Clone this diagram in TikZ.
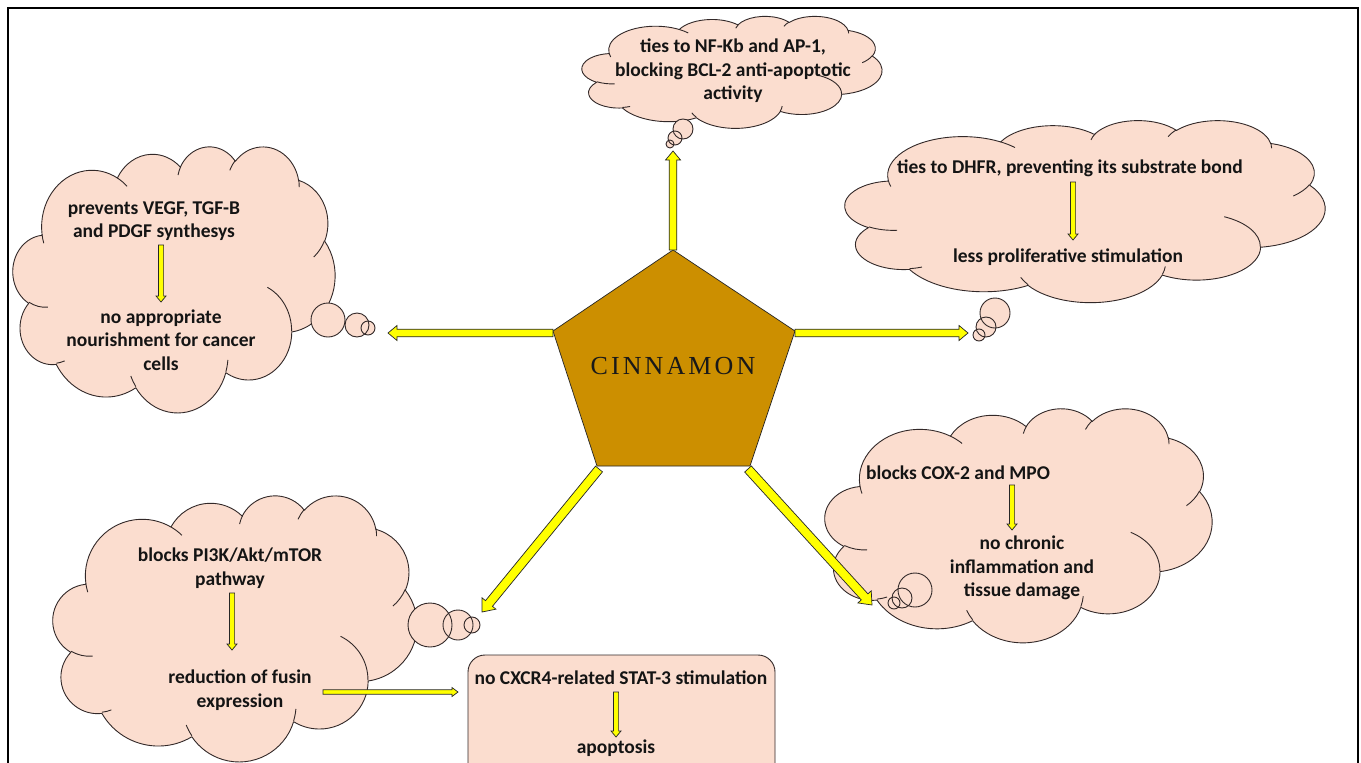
\documentclass[tikz,border=0pt]{standalone}
\usepackage{fontspec}
\setmainfont{Carlito}
\newfontfamily\cinfont[LetterSpace=12]{Liberation Serif}
\usetikzlibrary{calc}
\definecolor{cloudfill}{RGB}{251,221,207}
\definecolor{pentfill}{RGB}{204,143,0}
\definecolor{arrowyellow}{RGB}{255,255,0}
\definecolor{inkline}{RGB}{50,40,40}
\tikzset{
  cloudline/.style={draw=inkline, fill=cloudfill, line width=0.9pt, line join=round},
  creaseline/.style={draw=inkline, line width=0.9pt},
  bubblefill/.style={circle, fill=cloudfill, inner sep=0pt, minimum size=#1},
  bubbleline/.style={circle, draw=inkline, line width=0.9pt, inner sep=0pt, minimum size=#1},
  txt/.style={font=\fontsize{19.5}{23.5}\selectfont\bfseries, align=center, inner sep=0pt, text=black!92},
  blkarrow/.style={draw=black!85, fill=arrowyellow, line width=0.7pt, line join=miter},
  pentstyle/.style={draw=black!85, fill=pentfill, line width=0.7pt},
  framestyle/.style={draw=black, line width=1.6pt},
  roundbox/.style={draw=inkline, fill=cloudfill, line width=0.9pt, rounded corners=17pt}
}
% OOXML-style arcTo: x radius, y radius, start angle, sweep (visual angles)
\def\oo#1#2#3#4{arc[x radius=#1, y radius=#2,
  start angle={atan2((#1)*sin(#3),(#2)*cos(#3))},
  delta angle={mod(atan2((#1)*sin((#3)+(#4)),(#2)*cos((#3)+(#4)))-atan2((#1)*sin(#3),(#2)*cos(#3))+720,360)}]}
% cloud: name, left, top, width, height
\newcommand\pptcloud[5]{%
  \coordinate (#1) at ({#2+#4/2},{#3+#5/2});
  \begin{scope}[shift={(#2,#3)}, xscale=#4/432, yscale=#5/432]
    \draw[cloudline] (39,143.7)
      \oo{67.53}{91.90}{-190.48748}{123.78053}
      \oo{53.33}{72.67}{-144.10238}{89.94523}
      \oo{43.65}{59.45}{-145.80792}{99.72302}
      \oo{48.57}{65.95}{-130.98607}{117.24173}
      \oo{53.33}{72.73}{-78.70888}{109.02692}
      \oo{67.75}{92.20}{-46.26725}{130.269}
      \oo{57.85}{78.67}{0.62502}{114.03333}
      \oo{67.52}{92.15}{22.4516}{115.17255}
      \oo{77.20}{105.43}{66.24263}{75.71102}
      \oo{43.60}{59.18}{-274.94208}{146.73557}
      \oo{43.45}{59.45}{-246.8285}{152.51885} -- cycle;
    \draw[creaseline]
      (46.93,261.77) \oo{43.45}{59.45}{86.742}{26.4295}
      (69.28,348.99) \oo{43.60}{59.18}{73.61047}{11.44747}
      (164.78,390.90) \oo{67.52}{92.15}{137.62415}{14.0811}
      (288.27,347.51) \oo{67.52}{92.15}{6.45327}{15.99835}
      (341.29,229.54) \oo{57.85}{78.67}{-70.29235}{70.91737}
      (417.98,153.54) \oo{53.33}{72.73}{30.31803}{27.7515}
      (383.24,54.26) \oo{48.57}{65.95}{-13.74433}{14.8589}
      (290.78,39.52) \oo{48.57}{65.95}{-149.18145}{18.19537}
      (221.41,47.20) \oo{43.65}{59.45}{-163.49427}{17.68635}
      (140.00,51.92) \oo{67.53}{91.90}{-66.70695}{12.31935}
      (41.27,157.89) \oo{67.53}{91.90}{157.65435}{11.85817};
  \end{scope}}
\newcommand\blkarr[5]{%
  \draw[blkarrow] let \p1=($(#2)-(#1)$), \n1={atan2(\y1,\x1)}, \n2={veclen(\x1,\y1)-#5} in
    ($(#1)+(\n1+90:#3pt)$) -- ($(#1)+(\n1:\n2)+(\n1+90:#3pt)$) -- ($(#1)+(\n1:\n2)+(\n1+90:#4pt)$)
    -- (#2) -- ($(#1)+(\n1:\n2)+(\n1-90:#4pt)$) -- ($(#1)+(\n1:\n2)+(\n1-90:#3pt)$)
    -- ($(#1)+(\n1-90:#3pt)$) -- cycle;}
\begin{document}
\begin{tikzpicture}[x=1pt,y=-1pt]
\useasboundingbox (0,0) rectangle (1361,763);
\clip (0,0) rectangle (1361,763);
\fill[white] (0,0) rectangle (1361,763);
% frame
\draw[framestyle] (8,790) -- (8,8) -- (1358,8) -- (1358,790);

% clouds
\pptcloud{ctop}{582}{16}{300}{112}
\pptcloud{cright}{845}{120}{480}{182}
\pptcloud{cleft}{13}{146}{322}{266}
\pptcloud{cbl}{53}{495}{364}{266}
\pptcloud{cbr}{825}{408}{387}{234}

% thought bubbles
\foreach \nm/\px/\py/\d in {tb1/683/129/20, tb2/675/138/14, tb3/670/144/8,
  rb1/995/313/30, rb2/986/327/20, rb3/979/335/12,
  lb1/328/320/34, lb2/357/325/24, lb3/368/328/14,
  bb1/430/625/44, bb2/458/625/30, bb3/472/625/16,
  eb1/915/590/34, eb2/902/598/20, eb3/894/603/12}{
  \node[bubblefill=\d pt] (\nm f) at (\px,\py) {};
}
\foreach \nm/\px/\py/\d in {tb1/683/129/20, tb2/675/138/14, tb3/670/144/8,
  rb1/995/313/30, rb2/986/327/20, rb3/979/335/12,
  lb1/328/320/34, lb2/357/325/24, lb3/368/328/14,
  bb1/430/625/44, bb2/458/625/30, bb3/472/625/16,
  eb1/915/590/34, eb2/902/598/20, eb3/894/603/12}{
  \node[bubbleline=\d pt] (\nm) at (\px,\py) {};
}

% rounded box
\draw[roundbox] (468,655) rectangle (775,800);

% pentagon
\coordinate (pT) at (673,250);
\coordinate (pR) at (795,331);
\coordinate (pBR) at (750,466);
\coordinate (pBL) at (597,466);
\coordinate (pL) at (553,331);
\draw[pentstyle] (pT) -- (pR) -- (pBR) -- (pBL) -- (pL) -- cycle;
\node[inner sep=0pt, font=\cinfont\fontsize{26}{30}\selectfont, text=black!90] (cin) at (673,366) {CINNAMON};

% texts
\node[txt] (ttop) at (733,71) {ties to NF-Kb and AP-1,\\blocking BCL-2 anti-apoptotic\\activity};
\node[txt] (r1) at (1070,168) {ties to DHFR, preventing its substrate bond};
\node[txt] (r2) at (1068,257) {less proliferative stimulation};
\node[txt] (l1) at (154,221) {prevents VEGF, TGF-B\\and PDGF synthesys};
\node[txt] (l2) at (161,340) {no appropriate\\nourishment for cancer\\cells};
\node[txt] (bl1) at (230,568) {blocks PI3K/Akt/mTOR\\pathway};
\node[txt] (bl2) at (240,690) {reduction of fusin\\expression};
\node[txt] (br1) at (958,473) {blocks COX-2 and MPO};
\node[txt] (br2) at (1022,568) {no chronic\\inflammation and\\tissue damage};
\node[txt] (bx1) at (621,678) {no CXCR4-related STAT-3 stimulation};
\node[txt] (bx2) at (616,748) {apoptosis};

% arrow end points
\coordinate (tT) at (673,151);
\coordinate (tL) at (388,333);
\coordinate (tR) at (968,333);
\coordinate (tBL) at (482,612);
\coordinate (tBR) at (872,605);
\coordinate (sL) at (553,333);
\coordinate (sR) at (795,333);
\coordinate (sBL) at (599,469);
\coordinate (sBR) at (748,469);

\coordinate (ra) at (1073,182); \coordinate (rb) at (1073,240);
\coordinate (la) at (161,245);  \coordinate (lb) at (161,302);
\coordinate (ba) at (232,593);  \coordinate (bb) at (232,650);
\coordinate (ea) at (1012,485); \coordinate (eb) at (1012,530);
\coordinate (xa) at (616,692);  \coordinate (xb) at (616,737);
\coordinate (fa) at (323,692);  \coordinate (fb) at (458,692);

% main arrows
\blkarr{pT}{tT}{3.8}{7.5}{9}
\blkarr{sL}{tL}{3.8}{7.5}{9}
\blkarr{sR}{tR}{3.8}{7.5}{9}
\blkarr{sBL}{tBL}{4.5}{9}{11}
\blkarr{sBR}{tBR}{4.5}{9}{11}
% inner arrows
\blkarr{ra}{rb}{2.6}{5}{6}
\blkarr{la}{lb}{2.6}{5}{6}
\blkarr{ba}{bb}{2.6}{5}{6}
\blkarr{ea}{eb}{2.6}{5}{6}
\blkarr{xa}{xb}{2.6}{5}{6}
\blkarr{fa}{fb}{2.2}{4.5}{6}
\end{tikzpicture}
\end{document}
